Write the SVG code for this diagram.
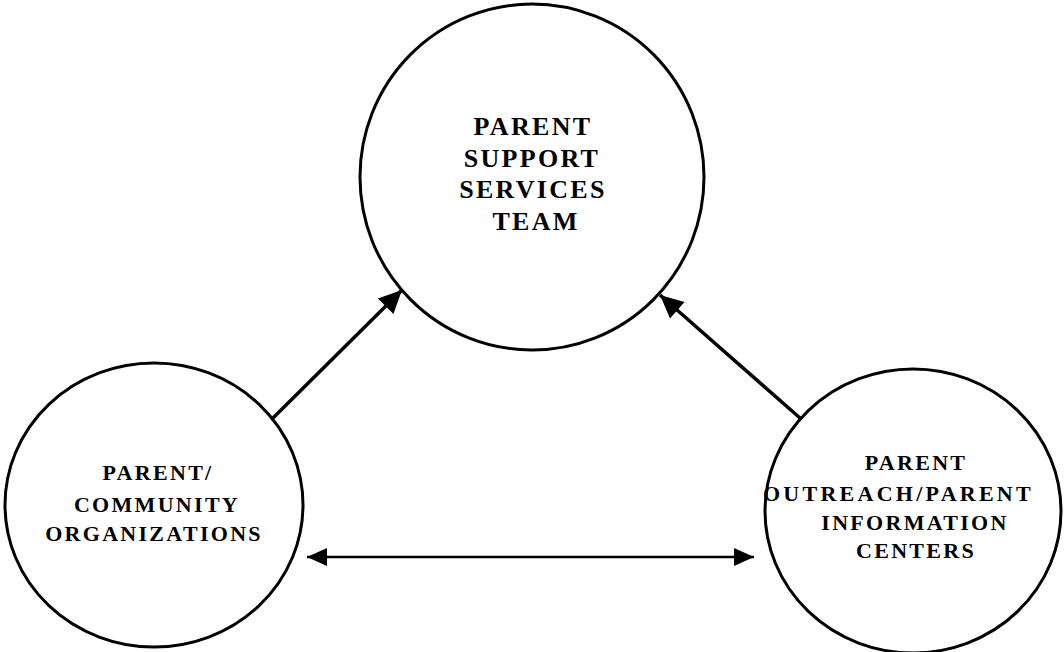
<svg xmlns="http://www.w3.org/2000/svg" width="1064" height="652" viewBox="0 0 1064 652">
<style>
.node{fill:#fff;stroke:#000;stroke-width:3}
.lbl{font-family:"Liberation Serif","Times New Roman",serif;font-weight:bold;fill:#000;text-anchor:middle}
.big{font-size:26px;letter-spacing:2.3px}
.sm{font-size:22px;letter-spacing:2.3px}
.con{stroke:#000;fill:none}
</style>
<defs>
<marker id="ah" markerUnits="userSpaceOnUse" viewBox="-24 -12 26 24" refX="0" refY="0" markerWidth="26" markerHeight="24" orient="auto-start-reverse">
<path d="M0,0 L-23,-11 L-23,11 Z" fill="#000"/>
</marker>
<marker id="ah2" markerUnits="userSpaceOnUse" viewBox="-22 -10 24 20" refX="0" refY="0" markerWidth="24" markerHeight="20" orient="auto-start-reverse">
<path d="M0,0 L-20,-9 L-20,9 Z" fill="#000"/>
</marker>
</defs>
<g id="connectors">
<line class="con" x1="273" y1="418" x2="402" y2="290" stroke-width="3.5" marker-end="url(#ah)"/>
<line class="con" x1="800" y1="418" x2="660" y2="295" stroke-width="3.5" marker-end="url(#ah)"/>
<line class="con" x1="307" y1="557" x2="754" y2="557" stroke-width="2.5" marker-start="url(#ah2)" marker-end="url(#ah2)"/>
</g>
<g id="node-support">
<ellipse class="node" cx="532" cy="177" rx="172" ry="173"/>
<text class="lbl big" x="533" y="135">PARENT</text>
<text class="lbl big" x="532" y="167">SUPPORT</text>
<text class="lbl big" x="533" y="198">SERVICES</text>
<text class="lbl big" x="536" y="230">TEAM</text>
</g>
<g id="node-community">
<ellipse class="node" cx="154" cy="505" rx="149" ry="142"/>
<text class="lbl sm" x="158" y="480">PARENT/</text>
<text class="lbl sm" x="157" y="512">COMMUNITY</text>
<text class="lbl sm" x="154" y="541">ORGANIZATIONS</text>
</g>
<g id="node-outreach">
<ellipse class="node" cx="913" cy="511" rx="148" ry="142"/>
<text class="lbl sm" x="916" y="470">PARENT</text>
<text class="lbl sm" x="898" y="501" textLength="270">OUTREACH/PARENT</text>
<text class="lbl sm" x="915" y="530">INFORMATION</text>
<text class="lbl sm" x="916" y="558">CENTERS</text>
</g>
</svg>
